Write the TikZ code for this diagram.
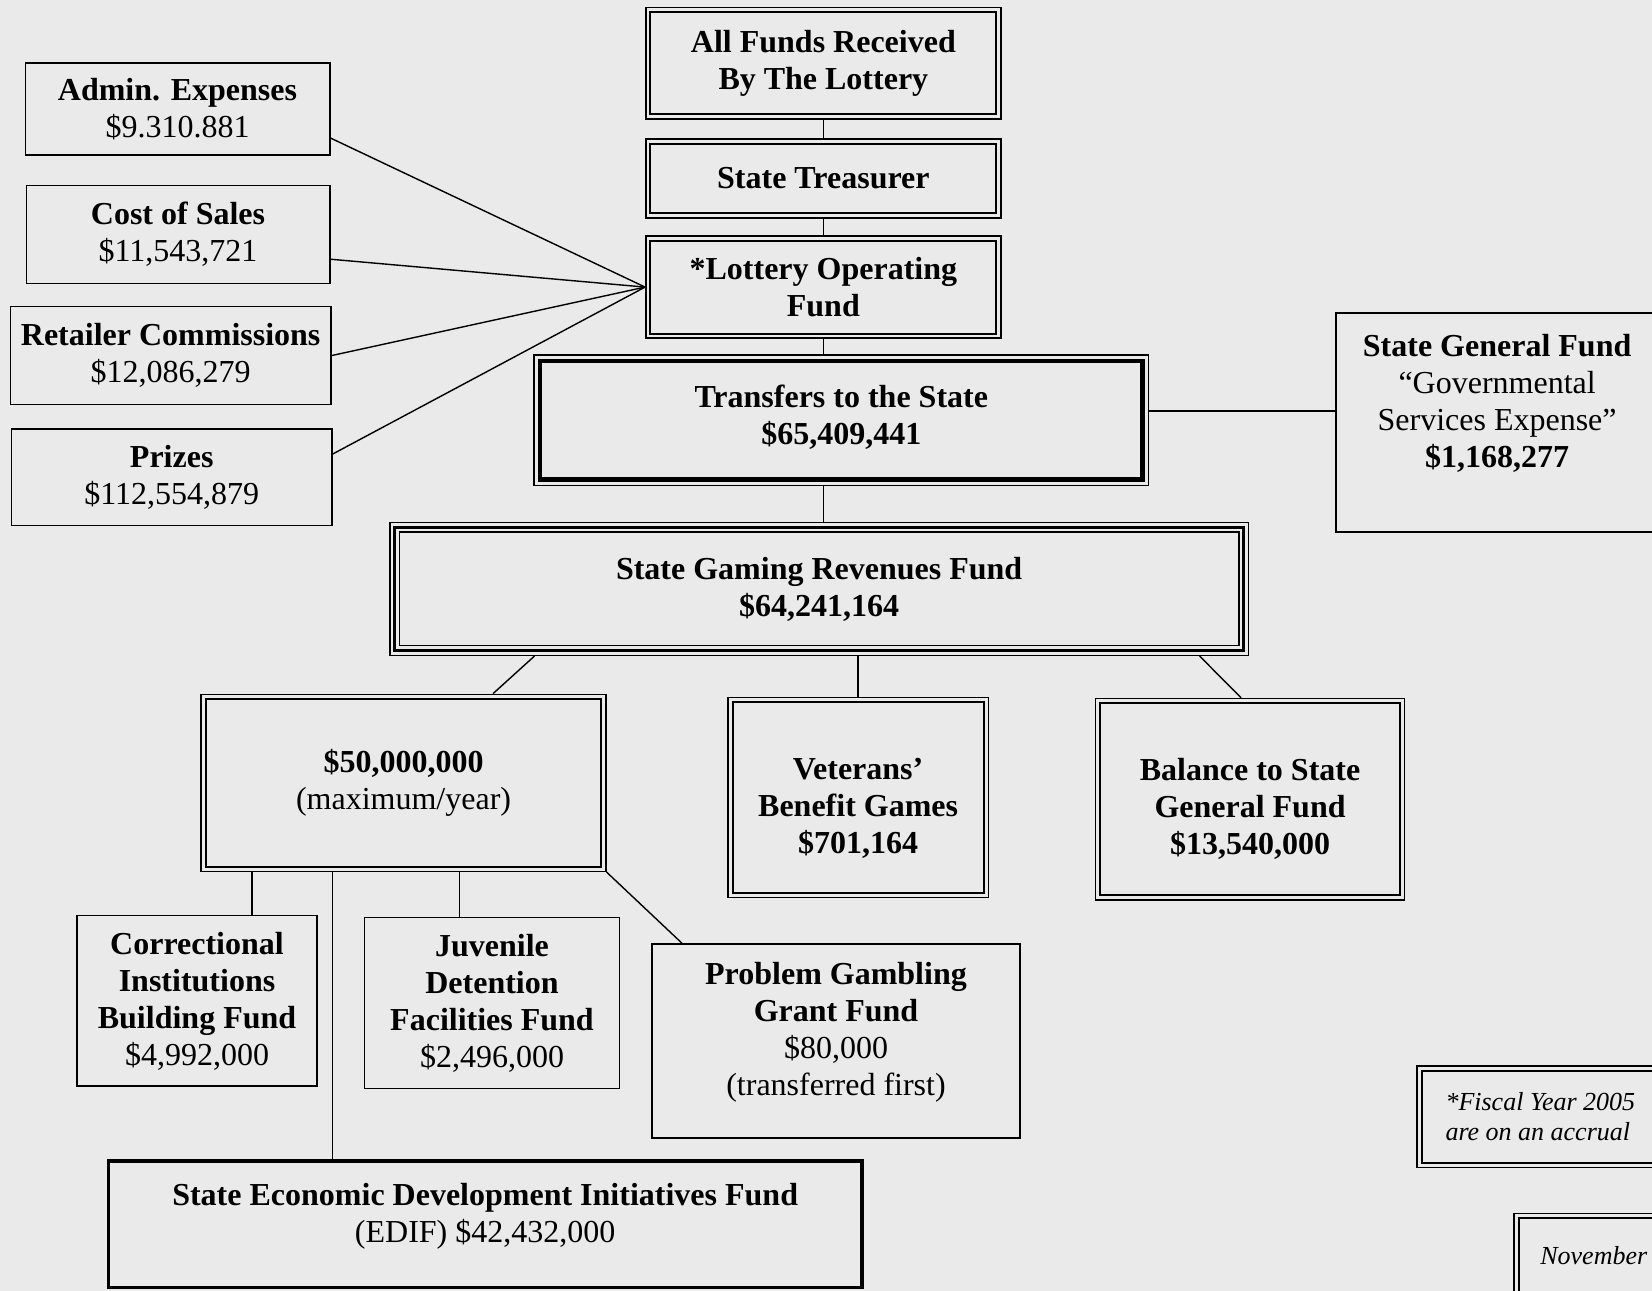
\documentclass[tikz,border=0pt]{standalone}
\usepackage{fontspec}
\setmainfont{Liberation Serif}
\usepackage{tikz}
\definecolor{paper}{RGB}{234,234,234}
\newcommand\px{0.5268pt}
\newcommand\boxfont{\fontsize{16}{18.5}\selectfont}
\newcommand\notefont{\fontsize{13}{15}\selectfont\itshape}
\newcommand\pushup[1]{\rule[-#1]{0pt}{#1}}
\newcommand\pushdown[1]{\rule{0pt}{#1}}

\begin{document}
\begin{tikzpicture}[x=0.5268pt,y=-0.5268pt,
  box/.style 2 args={draw, line width=0.75pt, inner sep=0pt, align=center, font=\boxfont,
    minimum width=#1*\px, minimum height=#2*\px},
  bbox/.style 2 args={box={#1}{#2}, font=\boxfont\bfseries},
  link/.style={line width=0.7pt}]
 \useasboundingbox (0,0) rectangle (1568,1225);
 \fill[paper] (0,0) rectangle (1568,1225);
 \clip (0,0) rectangle (1568,1225);

 \draw (781.5,60) node[bbox={337}{106}] (allfunds) {All Funds Received\\By The Lottery};
 \draw (781.5,169.5) node[bbox={337}{75}] (treasurer) {State Treasurer};
 \draw (781.5,272.5) node[bbox={337}{97}] (lottery) {*Lottery Operating\\Fund};
 \draw (798.5,399) node[bbox={583}{124}] (transfers) {Transfers to the State\\\$65,409,441\pushup{6pt}};
 \draw (1421,401) node[box={306}{208}] (general) {\textbf{State General Fund}\\``Governmental\\Services Expense''\\\textbf{\$1,168,277}\pushup{22pt}};
 \draw (777.5,559) node[bbox={815}{126}] (gaming) {State Gaming Revenues Fund\\\$64,241,164};

 \draw (168.5,103.5) node[box={289}{87}] (admin) {\textbf{Admin. Expenses}\\\$9.310.881};
 \draw (169,222.5) node[box={288}{93}] (sales) {\textbf{Cost of Sales}\\\$11,543,721};
 \draw (162,337.5) node[box={304}{93}] (retailer) {\textbf{Retailer Commissions}\\\$12,086,279};
 \draw (163,453) node[box={304}{92}] (prizes) {\textbf{Prizes}\\\$112,554,879};

 \draw (383,743) node[box={384}{168}] (fifty) {\textbf{\$50,000,000}\\(maximum/year)};
 \draw (814.5,757) node[bbox={247}{190}] (veterans) {\pushdown{21pt}Veterans'\\Benefit Games\\\$701,164};
 \draw (1186.5,758.5) node[bbox={293}{191}] (balance) {\pushdown{21pt}Balance to State\\General Fund\\\$13,540,000};

 \draw (187,950) node[box={228}{162}] (correctional) {\textbf{Correctional}\\\textbf{Institutions}\\\textbf{Building Fund}\\\$4,992,000};
 \draw (467,952) node[box={242}{162}] (juvenile) {\textbf{Juvenile}\\\textbf{Detention}\\\textbf{Facilities Fund}\\\$2,496,000};
 \draw (793.5,988) node[box={349}{184}] (gambling) {\textbf{Problem Gambling}\\\textbf{Grant Fund}\\\$80,000\\(transferred first)\pushup{11.6pt}};
 \draw (460.5,1162) node[box={715}{120}, line width=1.8pt] (edif) {\textbf{State Economic Development Initiatives Fund}\\(EDIF) \$42,432,000\pushup{11.6pt}};

 \draw (1492.5,1060) node[box={295}{96}, font=\notefont, align=flush left, text width=241*\px] (note) {*Fiscal Year 2005\\are on an accrual};
 \draw (1528.5,1192) node[box={183}{80}, font=\notefont, align=flush left, text width=133*\px] (november) {November};

 % inner frames
 \foreach \n in {allfunds,treasurer,lottery,fifty,veterans,balance,note,november}
   \draw[line width=1pt] ([shift={(2.7pt,-2.7pt)}]\n.north west) rectangle ([shift={(-2.7pt,2.7pt)}]\n.south east);
 \draw[line width=2.4pt] ([shift={(3.3pt,-3.3pt)}]transfers.north west) rectangle ([shift={(-3.3pt,3.3pt)}]transfers.south east);
 \draw[line width=1.8pt] ([shift={(2.8pt,-2.8pt)}]gaming.north west) rectangle ([shift={(-2.8pt,2.8pt)}]gaming.south east);
 \draw[line width=0.8pt] ([shift={(5.2pt,-5.2pt)}]gaming.north west) rectangle ([shift={(-5.2pt,5.2pt)}]gaming.south east);

 \path[link] (allfunds) edge (treasurer)
   (treasurer) edge (lottery)
   (lottery.south) edge (lottery.south |- transfers.north)
   (lottery.south |- transfers.south) edge (lottery.south |- gaming.north)
   ([yshift=4.7pt]transfers.east) edge ([yshift=4.7pt]transfers.east -| general.west);

 \path[link] ([yshift=-14.5pt]admin.east) edge (lottery.west)
   ([yshift=-12.4pt]sales.east) edge (lottery.west)
   (retailer.east) edge (lottery.west)
   ([yshift=11.6pt]prizes.east) edge (lottery.west);

 \path[link] ([xshift=72.7pt]gaming.south west) edge ([xshift=44.8pt]fifty.north)
   (veterans.north |- gaming.south) edge (veterans.north)
   ([xshift=-24.8pt]gaming.south east) edge ([xshift=-4.5pt]balance.north);

 \path[link] ([xshift=25.8pt]fifty.south west) edge ([xshift=25.8pt]fifty.south west |- correctional.north)
   ([xshift=129.6pt]fifty.south west) edge ([xshift=129.6pt]fifty.south west |- juvenile.north)
   ([xshift=65.9pt]fifty.south west) edge ([xshift=65.9pt]fifty.south west |- edif.north)
   (fifty.south east) edge ([xshift=15.3pt]gambling.north west);
\end{tikzpicture}
\end{document}
